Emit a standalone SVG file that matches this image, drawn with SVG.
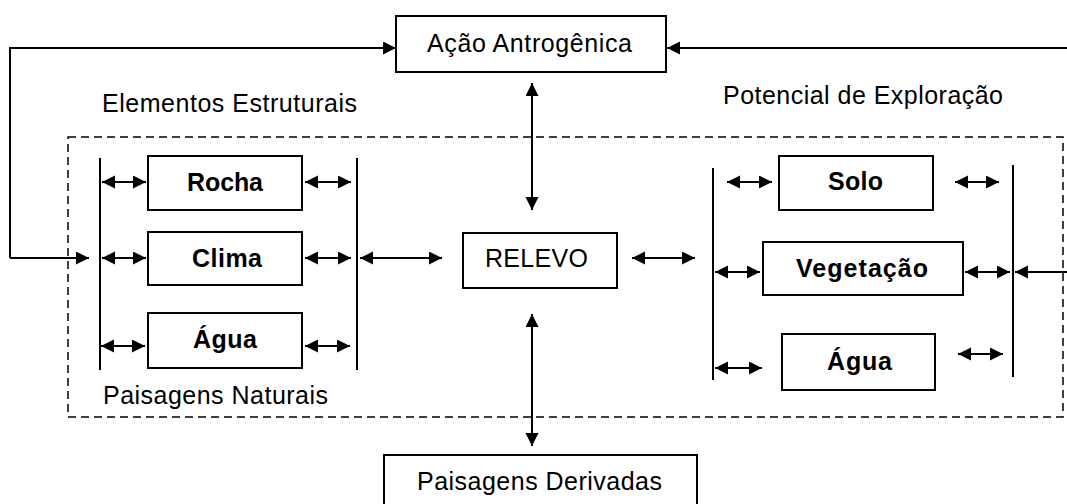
<svg xmlns="http://www.w3.org/2000/svg" width="1067" height="504" viewBox="0 0 1067 504">
<style>
.box{fill:#fff;stroke:#000;stroke-width:2}
.t{font-family:"Liberation Sans",Arial,sans-serif;font-size:25px;fill:#000}
.b{font-family:"Liberation Sans",Arial,sans-serif;font-size:25px;font-weight:bold;fill:#000}
.ln{fill:none;stroke:#000;stroke-width:2}
.bar{fill:none;stroke:#000;stroke-width:2}
.dash{fill:none;stroke:#000;stroke-width:1.5;stroke-dasharray:8 5}
.a1{marker-end:url(#ah)}
.a2{marker-start:url(#ah);marker-end:url(#ah)}
</style>
<defs>
<marker id="ah" markerUnits="userSpaceOnUse" markerWidth="14" markerHeight="14" refX="13" refY="6.5" orient="auto-start-reverse">
<path d="M0,0 L13,6.5 L0,13 z" fill="#000"/>
</marker>
</defs>
<rect width="1067" height="504" fill="#fff"/>
<g id="frame">
<rect class="dash" x="68" y="137" width="995" height="280"/>
</g>
<g id="labels">
<text class="t" x="102" y="112" textLength="255" lengthAdjust="spacing">Elementos Estruturais</text>
<text class="t" x="723" y="104" textLength="280" lengthAdjust="spacing">Potencial de Exploração</text>
<text class="t" x="103" y="404" textLength="225" lengthAdjust="spacing">Paisagens Naturais</text>
</g>
<g id="bars">
<line class="bar" x1="100" y1="158" x2="100" y2="370"/>
<line class="bar" x1="357" y1="158" x2="357" y2="370"/>
<line class="bar" x1="713" y1="168" x2="713" y2="380"/>
<line class="bar" x1="1013" y1="165" x2="1013" y2="377"/>
</g>
<g id="connectors">
<polyline class="ln a1" points="10,258 10,48 396,48"/>
<polyline class="ln a1" points="10,258 89,258"/>
<line class="ln a1" x1="1067" y1="48" x2="667" y2="48"/>
<line class="ln a2" x1="532" y1="83" x2="532" y2="210"/>
<line class="ln a2" x1="532" y1="314" x2="532" y2="446"/>
<line class="ln a2" x1="360" y1="258" x2="442" y2="258"/>
<line class="ln a2" x1="632" y1="258" x2="695" y2="258"/>
<line class="ln a2" x1="102" y1="182" x2="146" y2="182"/>
<line class="ln a2" x1="305" y1="182" x2="351" y2="182"/>
<line class="ln a2" x1="102" y1="258" x2="146" y2="258"/>
<line class="ln a2" x1="305" y1="258" x2="351" y2="258"/>
<line class="ln a2" x1="101" y1="346" x2="145" y2="346"/>
<line class="ln a2" x1="305" y1="346" x2="350" y2="346"/>
<line class="ln a2" x1="727" y1="182" x2="772" y2="182"/>
<line class="ln a2" x1="955" y1="182" x2="999" y2="182"/>
<line class="ln a2" x1="715" y1="272" x2="760" y2="272"/>
<line class="ln a2" x1="965" y1="272" x2="1010" y2="272"/>
<line class="ln a1" x1="1067" y1="272" x2="1015" y2="272"/>
<line class="ln a2" x1="715" y1="368" x2="762" y2="368"/>
<line class="ln a2" x1="958" y1="354" x2="1003" y2="354"/>
</g>
<g id="acao">
<rect class="box" x="396" y="16" width="270" height="56"/>
<text class="t" x="427" y="52" textLength="205" lengthAdjust="spacing">Ação Antrogênica</text>
</g>
<g id="relevo">
<rect class="box" x="463" y="233" width="154" height="55"/>
<text class="t" x="485" y="267" textLength="103" lengthAdjust="spacing">RELEVO</text>
</g>
<g id="derivadas">
<rect class="box" x="384" y="455" width="313" height="60"/>
<text class="t" x="417" y="490" textLength="245" lengthAdjust="spacing">Paisagens Derivadas</text>
</g>
<g id="rocha">
<rect class="box" x="148" y="156" width="154" height="54"/>
<text class="b" x="187" y="191" textLength="76" lengthAdjust="spacing">Rocha</text>
</g>
<g id="clima">
<rect class="box" x="148" y="232" width="154" height="53"/>
<text class="b" x="192" y="267" textLength="70" lengthAdjust="spacing">Clima</text>
</g>
<g id="agua1">
<rect class="box" x="148" y="313" width="154" height="55"/>
<text class="b" x="193" y="348" textLength="64" lengthAdjust="spacing">Água</text>
</g>
<g id="solo">
<rect class="box" x="779" y="156" width="154" height="54"/>
<text class="b" x="828" y="190" textLength="55" lengthAdjust="spacing">Solo</text>
</g>
<g id="vegetacao">
<rect class="box" x="763" y="242" width="200" height="53"/>
<text class="b" x="796" y="277" textLength="132" lengthAdjust="spacing">Vegetação</text>
</g>
<g id="agua2">
<rect class="box" x="782" y="334" width="153" height="56"/>
<text class="b" x="827" y="370" textLength="65" lengthAdjust="spacing">Água</text>
</g>
</svg>
